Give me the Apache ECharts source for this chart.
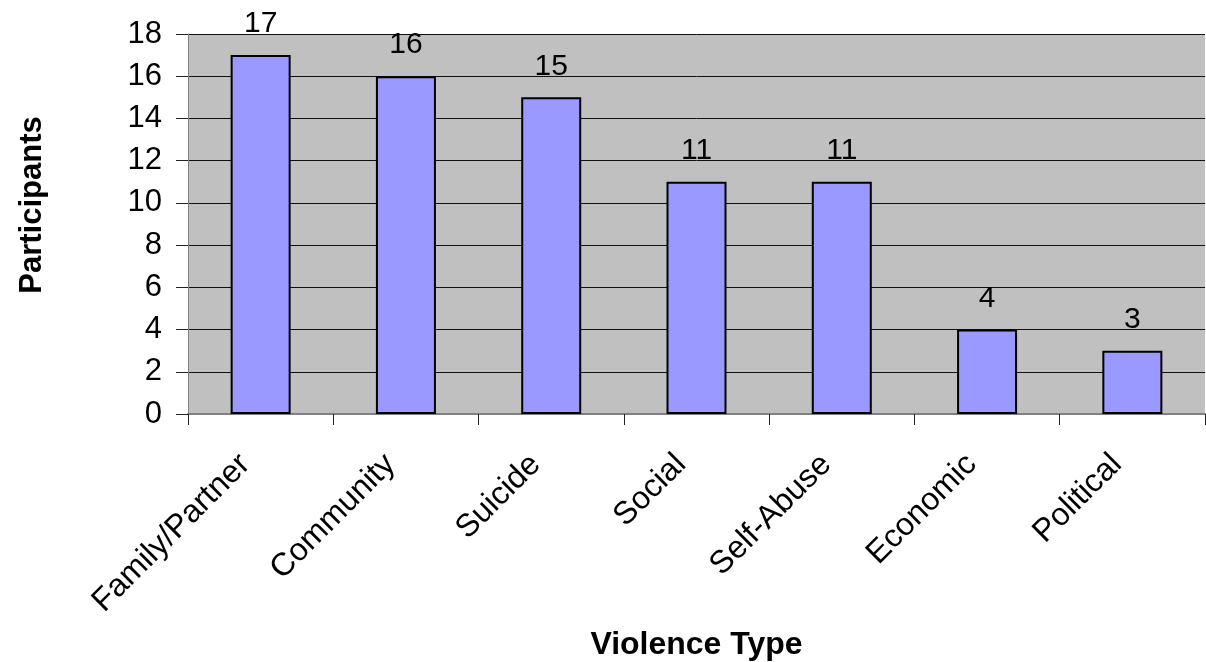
<!DOCTYPE html>
<html>
<head>
<meta charset="utf-8">
<script src="https://cdn.jsdelivr.net/npm/echarts@6/dist/echarts.min.js"></script>
<style>
  html, body { margin: 0; padding: 0; background: #fff; }
  #chart { width: 1206px; height: 662px; }
</style>
</head>
<body>
<div id="chart"></div>
<script>
// Participants reporting each type of violence
const categories = ['Family/Partner', 'Community', 'Suicide', 'Social', 'Self-Abuse', 'Economic', 'Political'];
const participants = [17, 16, 15, 11, 11, 4, 3];
const yTicks = { min: 0, max: 18, interval: 2 };

const font = 'Arial, "Liberation Sans", sans-serif';
const chart = echarts.init(document.getElementById('chart'));

chart.setOption({
  animation: false,
  backgroundColor: '#ffffff',
  grid: {
    left: 188, right: 1, top: 34, bottom: 248,
    outerBoundsMode: 'none',
    show: true, backgroundColor: '#c0c0c0', borderWidth: 0
  },
  xAxis: {
    type: 'category',
    data: categories,
    name: 'Violence Type',
    nameLocation: 'middle',
    nameGap: 215,
    nameTextStyle: { fontFamily: font, fontSize: 32, fontWeight: 'bold', color: '#000' },
    axisLine: { show: true, lineStyle: { color: '#808080', width: 2 } },
    axisTick: { show: true, length: 11, lineStyle: { color: '#222', width: 1 } },
    axisLabel: {
      rotate: 45, margin: 30, interval: 0,
      padding: [0, 22, 0, 0],
      fontFamily: font, fontSize: 32, color: '#000'
    },
    splitLine: { show: false }
  },
  yAxis: {
    type: 'value',
    min: yTicks.min, max: yTicks.max, interval: yTicks.interval,
    name: 'Participants',
    nameLocation: 'middle',
    nameGap: 140,
    nameRotate: 90,
    nameTextStyle: {
      fontFamily: font, fontSize: 31, fontWeight: 'bold', color: '#000',
      padding: [0, 0, 0, 38]
    },
    axisLine: { show: true, lineStyle: { color: '#808080', width: 1 } },
    axisTick: { show: true, length: 12, lineStyle: { color: '#222', width: 1 } },
    axisLabel: { margin: 26, fontFamily: font, fontSize: 31, color: '#000' },
    splitLine: { show: true, lineStyle: { color: '#111', width: 1 } }
  },
  series: [{
    type: 'bar',
    data: participants,
    barWidth: 60,
    itemStyle: { color: '#9999ff', borderColor: '#000', borderWidth: 2 },
    label: {
      show: true, position: 'top', distance: 16,
      fontFamily: font, fontSize: 30, color: '#000'
    }
  }]
});
</script>
</body>
</html>
